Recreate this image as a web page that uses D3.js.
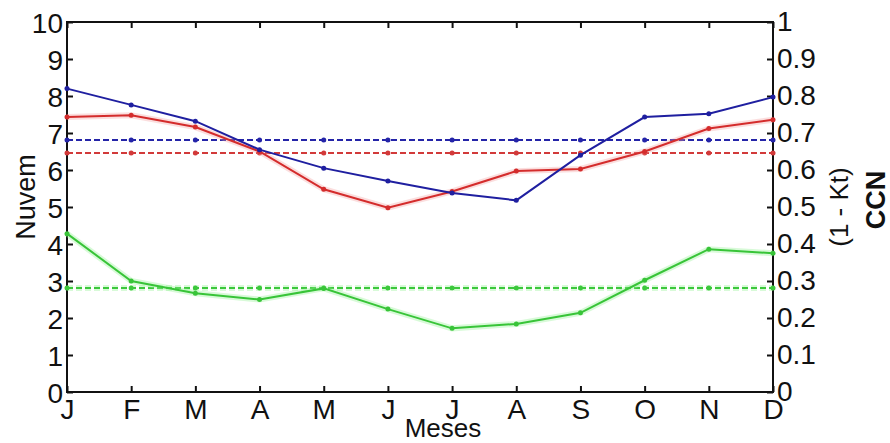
<!DOCTYPE html>
<html>
<head>
<meta charset="utf-8">
<script src="https://cdn.jsdelivr.net/npm/d3@7"></script>
<style>
  body { margin: 0; background: #fff; }
  text { font-family: "Liberation Sans", Arial, sans-serif; fill: #111; }
</style>
</head>
<body>
<svg id="chart" width="890" height="443"></svg>
<script>
// month labels (x axis)
var months = ["J", "F", "M", "A", "M", "J", "J", "A", "S", "O", "N", "D"];
// monthly values (left axis units, 0-10)
var blueValues  = [8.2, 7.76, 7.32, 6.55, 6.05, 5.7, 5.38, 5.18, 6.4, 7.43, 7.52, 7.97];
var redValues   = [7.43, 7.48, 7.16, 6.5, 5.48, 4.98, 5.42, 5.97, 6.03, 6.5, 7.12, 7.36];
var greenValues = [4.28, 3.0, 2.67, 2.5, 2.8, 2.24, 1.72, 1.84, 2.14, 3.02, 3.86, 3.75];
// annual means (dashed lines)
var blueMean = 6.81, redMean = 6.46, greenMean = 2.81;
// tick values
var leftTicks = [0, 1, 2, 3, 4, 5, 6, 7, 8, 9, 10];
var rightTicks = [0, 0.1, 0.2, 0.3, 0.4, 0.5, 0.6, 0.7, 0.8, 0.9, 1];

var margin = { left: 67, right: 117, top: 22, bottom: 51 };
var width = 890, height = 443;
var svg = d3.select("#chart");

var x = d3.scalePoint().domain(d3.range(months.length)).range([margin.left, width - margin.right]);
var y = d3.scaleLinear().domain([0, 10]).range([height - margin.bottom, margin.top]);
var y2 = d3.scaleLinear().domain([0, 1]).range([height - margin.bottom, margin.top]);

var x0 = margin.left, x1 = width - margin.right, yTop = margin.top, yBot = height - margin.bottom;

// axes (ticks pointing inwards)
var fmt = function (d) { return d === 0 || d === 1 ? String(d) : d3.format(".1f")(d); };
var bottomAxis = d3.axisBottom(x).tickFormat(function (i) { return months[i]; }).tickSizeInner(-6).tickSizeOuter(0).tickPadding(12);
var topAxis = d3.axisTop(x).tickFormat("").tickSizeInner(-6).tickSizeOuter(0);
var leftAxis = d3.axisLeft(y).tickValues(leftTicks).tickSizeInner(-6).tickSizeOuter(0).tickPadding(4);
var rightAxis = d3.axisRight(y2).tickValues(rightTicks).tickFormat(fmt).tickSizeInner(-6).tickSizeOuter(0).tickPadding(4);

function styleAxis(g) {
    g.select(".domain").remove();
    g.selectAll(".tick line").attr("stroke", "#111").attr("stroke-width", 2);
    g.selectAll(".tick text").attr("font-size", 28).attr("fill", "#111")
        .attr("font-family", "'Liberation Sans', Arial, sans-serif");
}

svg.append("g").attr("transform", "translate(0," + yBot + ")").call(bottomAxis).call(styleAxis)
    .selectAll(".tick text").attr("dy", "0.55em");
svg.append("g").attr("transform", "translate(0," + yTop + ")").call(topAxis).call(styleAxis);
svg.append("g").attr("transform", "translate(" + x0 + ",0)").call(leftAxis).call(styleAxis)
    .selectAll(".tick text").attr("dy", "0.36em");
svg.append("g").attr("transform", "translate(" + x1 + ",0)").call(rightAxis).call(styleAxis);

// frame
svg.append("rect").attr("x", x0).attr("y", yTop).attr("width", x1 - x0).attr("height", yBot - yTop)
    .attr("fill", "none").attr("stroke", "#111").attr("stroke-width", 2);

var line = d3.line().x(function (d, i) { return x(i); }).y(function (d) { return y(d); });

function drawSeries(values, color, dashed, halo) {
    if (halo) {
        svg.append("path").datum(values).attr("d", line).attr("fill", "none")
            .attr("stroke", halo).attr("stroke-width", 6).attr("stroke-opacity", 0.35)
            .attr("stroke-dasharray", dashed ? "6,3" : null);
    }
    svg.append("path").datum(values).attr("d", line).attr("fill", "none")
        .attr("stroke", color).attr("stroke-width", 2)
        .attr("stroke-dasharray", dashed ? "6,3" : null);
    svg.append("g").selectAll("circle").data(values).enter().append("circle")
        .attr("cx", function (d, i) { return x(i); })
        .attr("cy", function (d) { return y(d); })
        .attr("r", 2.5).attr("fill", color);
}

function meanSeries(v) { return months.map(function () { return v; }); }

drawSeries(meanSeries(greenMean), "#3cc83c", true, "#8ef08e");
drawSeries(meanSeries(redMean), "#d23a3a", true, null);
drawSeries(meanSeries(blueMean), "#2424a8", true, null);
drawSeries(greenValues, "#38c438", false, "#8ef08e");
drawSeries(redValues, "#d42c2c", false, "#f4a0a0");
drawSeries(blueValues, "#1f1fa0", false, null);

// axis titles
svg.append("text").attr("transform", "translate(35,197) rotate(-90)")
    .attr("text-anchor", "middle").attr("font-size", 27).text("Nuvem");
svg.append("text").attr("transform", "translate(848,207) rotate(-90)")
    .attr("text-anchor", "middle").attr("font-size", 26).text("(1 - Kt)");
svg.append("text").attr("transform", "translate(885,200) rotate(-90)")
    .attr("text-anchor", "middle").attr("font-size", 27).attr("font-weight", "bold").text("CCN");
svg.append("text").attr("x", 443).attr("y", 437)
    .attr("text-anchor", "middle").attr("font-size", 26).text("Meses");
</script>
</body>
</html>
